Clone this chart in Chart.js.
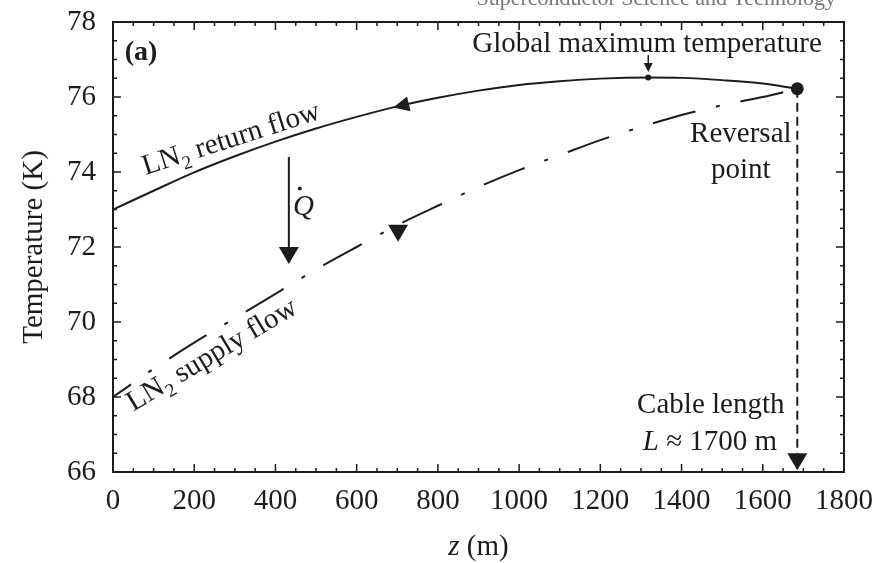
<!DOCTYPE html>
<html>
<head>
<meta charset="utf-8">
<script src="https://cdn.jsdelivr.net/npm/chart.js@4.4.1/dist/chart.umd.min.js"></script>
<style>
  html, body { margin: 0; padding: 0; background: #fff; }
</style>
</head>
<body>
<canvas id="grafico" width="883" height="563"></canvas>
<script>
// Temperatura del LN2 a lo largo del cable (ida y vuelta)
const zTicks = [0, 200, 400, 600, 800, 1000, 1200, 1400, 1600, 1800];
const tTicks = [66, 68, 70, 72, 74, 76, 78];

// flujo de retorno (línea continua)
const zReturn = [0, 100, 200, 300, 400, 500, 600, 700, 800, 900, 1000, 1100, 1200, 1318, 1400, 1500, 1600, 1685];
const tReturn = [73.0, 73.5, 73.99, 74.42, 74.81, 75.16, 75.47, 75.75, 75.98, 76.17, 76.32, 76.42, 76.49, 76.52, 76.51, 76.45, 76.36, 76.22];

// flujo de ida (raya-punto)
const zSupply = [0, 100, 200, 300, 400, 500, 600, 700, 800, 900, 1000, 1100, 1200, 1300, 1400, 1500, 1600, 1685];
const tSupply = [68.0, 68.75, 69.45, 70.1, 70.75, 71.4, 72.0, 72.58, 73.1, 73.6, 74.05, 74.45, 74.85, 75.2, 75.52, 75.78, 76.0, 76.22];

// puntos marcados: máximo global y punto de retorno
const zMarks = [1318, 1685];
const tMarks = [76.52, 76.22];

const SERIF = "'Liberation Serif', 'Times New Roman', serif";
const INK = '#1c1c1c';

function flecha(ctx, x0, y0, x1, y1, largo, ancho) {
    // línea de (x0,y0) a la punta (x1,y1) con cabeza triangular
    let ang = Math.atan2(y1 - y0, x1 - x0);
    ctx.beginPath();
    ctx.moveTo(x0, y0);
    ctx.lineTo(x1 - Math.cos(ang) * largo * 0.8, y1 - Math.sin(ang) * largo * 0.8);
    ctx.stroke();
    cabeza(ctx, x1, y1, ang, largo, ancho);
}

function cabeza(ctx, x, y, ang, largo, ancho) {
    ctx.beginPath();
    ctx.moveTo(x, y);
    ctx.lineTo(x - Math.cos(ang) * largo - Math.sin(ang) * ancho / 2, y - Math.sin(ang) * largo + Math.cos(ang) * ancho / 2);
    ctx.lineTo(x - Math.cos(ang) * largo + Math.sin(ang) * ancho / 2, y - Math.sin(ang) * largo - Math.cos(ang) * ancho / 2);
    ctx.closePath();
    ctx.fill();
}

function etiquetaLN2(ctx, x, y, ang, resto) {
    ctx.save();
    ctx.translate(x, y);
    ctx.rotate(ang);
    ctx.textAlign = 'left';
    ctx.textBaseline = 'alphabetic';
    ctx.font = `29px ${SERIF}`;
    ctx.fillText('LN', 0, 0);
    let w = ctx.measureText('LN').width;
    ctx.font = `19px ${SERIF}`;
    ctx.fillText('2', w, 7);
    w += ctx.measureText('2').width;
    ctx.font = `29px ${SERIF}`;
    ctx.fillText(resto, w, 0);
    ctx.restore();
}

const marco = {
    id: 'marco',
    afterDatasetsDraw(chart) {
        const ctx = chart.ctx;
        const a = chart.chartArea;
        const sx = chart.scales.x, sy = chart.scales.y;
        const X = v => sx.getPixelForValue(v);
        const Y = v => sy.getPixelForValue(v);
        ctx.save();
        ctx.strokeStyle = INK;
        ctx.fillStyle = INK;

        // caja y marcas hacia adentro
        ctx.lineWidth = 2;
        ctx.strokeRect(a.left, a.top, a.right - a.left, a.bottom - a.top);
        ctx.lineWidth = 1.5;
        ctx.beginPath();
        for (let z = 50; z < 1800; z += 50) {
            let l = z % 200 === 0 ? 8 : 4;
            ctx.moveTo(X(z), a.bottom); ctx.lineTo(X(z), a.bottom - l);
            ctx.moveTo(X(z), a.top); ctx.lineTo(X(z), a.top + l);
        }
        for (let t = 66.5; t < 78; t += 0.5) {
            let l = t % 2 === 0 ? 8 : 4;
            ctx.moveTo(a.left, Y(t)); ctx.lineTo(a.left + l, Y(t));
            ctx.moveTo(a.right, Y(t)); ctx.lineTo(a.right - l, Y(t));
        }
        ctx.stroke();

        // flechas
        ctx.lineWidth = 2;
        // Q punto, transferencia de calor
        flecha(ctx, X(433), Y(74.4), X(433), Y(71.55), 17, 20);
        // máximo global
        ctx.lineWidth = 1.5;
        flecha(ctx, X(1318), Y(77.12), X(1318), Y(76.67), 9, 9);
        // cabeza en la línea vertical de longitud del cable
        cabeza(ctx, X(1685), Y(66.05), Math.PI / 2, 17, 20);
        // sentido del flujo de retorno (hacia la izquierda, siguiendo la curva)
        let angR = Math.atan2(Y(75.47) - Y(75.98), X(600) - X(800));
        cabeza(ctx, X(690), Y(75.72), angR, 16, 15);
        // sentido del flujo de ida
        cabeza(ctx, X(702), Y(72.14), Math.PI / 2, 17, 20);

        // textos
        ctx.textBaseline = 'alphabetic';
        ctx.font = `bold 28px ${SERIF}`;
        ctx.textAlign = 'left';
        ctx.fillText('(a)', X(29), Y(77.0));

        ctx.font = `29px ${SERIF}`;
        ctx.textAlign = 'center';
        ctx.fillText('Global maximum temperature', X(1315), Y(77.21));
        ctx.fillText('Reversal', X(1546), Y(74.81));
        ctx.fillText('point', X(1546), Y(73.84));
        ctx.fillText('Cable length', X(1472), Y(67.57));

        // L ≈ 1700 m, con L en cursiva
        ctx.textAlign = 'left';
        ctx.font = `italic 29px ${SERIF}`;
        let wL = ctx.measureText('L').width;
        ctx.font = `29px ${SERIF}`;
        let wR = ctx.measureText(' \u2248 1700 m').width;
        let x0 = X(1470) - (wL + wR) / 2;
        ctx.font = `italic 29px ${SERIF}`;
        ctx.fillText('L', x0, Y(66.59));
        ctx.font = `29px ${SERIF}`;
        ctx.fillText(' \u2248 1700 m', x0 + wL, Y(66.59));

        // Q con punto
        ctx.font = `italic 29px ${SERIF}`;
        ctx.fillText('Q', X(443), Y(72.85));
        ctx.beginPath();
        ctx.arc(X(460), Y(73.56), 2, 0, Math.PI * 2);
        ctx.fill();

        // etiquetas rotadas sobre las curvas
        etiquetaLN2(ctx, X(80), Y(73.92), -17.8 * Math.PI / 180, ' return flow');
        etiquetaLN2(ctx, X(50), Y(67.61), -31 * Math.PI / 180, ' supply flow');

        // títulos de ejes
        ctx.save();
        ctx.translate(42, (a.top + a.bottom) / 2);
        ctx.rotate(-Math.PI / 2);
        ctx.textAlign = 'center';
        ctx.font = `29px ${SERIF}`;
        ctx.fillText('Temperature (K)', 0, 0);
        ctx.restore();

        ctx.textAlign = 'left';
        ctx.font = `italic 29px ${SERIF}`;
        let wz = ctx.measureText('z').width;
        ctx.font = `29px ${SERIF}`;
        let wm = ctx.measureText(' (m)').width;
        let xz = (a.left + a.right) / 2 - (wz + wm) / 2;
        ctx.font = `italic 29px ${SERIF}`;
        ctx.fillText('z', xz, 555);
        ctx.font = `29px ${SERIF}`;
        ctx.fillText(' (m)', xz + wz, 555);

        // encabezado de la revista, cortado arriba
        ctx.fillStyle = '#777';
        ctx.textAlign = 'right';
        ctx.font = `22px ${SERIF}`;
        ctx.fillText('Superconductor Science and Technology', 836, 5);
        ctx.restore();
    }
};

const pares = (xs, ys) => xs.map((x, i) => ({ x: x, y: ys[i] }));

// sin relleno extra alrededor del área: el recuadro queda donde lo fija el layout
function sinRelleno(s) {
    s.paddingTop = 0;
    s.paddingBottom = 0;
    s.paddingLeft = 0;
    s.paddingRight = 0;
}

new Chart(document.getElementById('grafico').getContext('2d'), {
    type: 'line',
    data: {
        datasets: [
            { label: 'LN2 return flow', data: pares(zReturn, tReturn), borderColor: INK, borderWidth: 2, pointRadius: 0, tension: 0.4, cubicInterpolationMode: 'monotone', fill: false },
            { label: 'LN2 supply flow', data: pares(zSupply, tSupply), borderColor: INK, borderWidth: 2, pointRadius: 0, tension: 0.4, cubicInterpolationMode: 'monotone', borderDash: [44, 21, 4, 21], borderDashOffset: 22, fill: false },
            { label: 'Cable length', data: pares([zMarks[1], zMarks[1]], [tMarks[1], 66.5]), borderColor: INK, borderWidth: 2, pointRadius: 0, borderDash: [9, 5], fill: false },
            { label: 'marks', data: pares(zMarks, tMarks), showLine: false, pointRadius: [3, 6.5], pointBackgroundColor: INK, pointBorderWidth: 0 }
        ]
    },
    options: {
        responsive: false,
        animation: false,
        devicePixelRatio: 1,
        layout: { padding: { top: 22, right: 39, left: 0, bottom: 0 } },
        plugins: { legend: { display: false }, tooltip: { enabled: false } },
        scales: {
            x: {
                type: 'linear', min: 0, max: 1800,
                afterFit(s) { s.height = 91; sinRelleno(s); },
                afterBuildTicks(s) { s.ticks = zTicks.map(v => ({ value: v })); },
                grid: { display: false, drawTicks: false },
                border: { display: false },
                ticks: { font: { family: SERIF, size: 29 }, color: INK, padding: 12, maxRotation: 0, autoSkip: false, callback: v => String(v) }
            },
            y: {
                type: 'linear', min: 66, max: 78,
                afterFit(s) { s.width = 113; sinRelleno(s); },
                afterBuildTicks(s) { s.ticks = tTicks.map(v => ({ value: v })); },
                grid: { display: false, drawTicks: false },
                border: { display: false },
                ticks: { font: { family: SERIF, size: 29 }, color: INK, padding: 17, callback: v => String(v) }
            }
        }
    },
    plugins: [marco]
});
</script>
</body>
</html>
